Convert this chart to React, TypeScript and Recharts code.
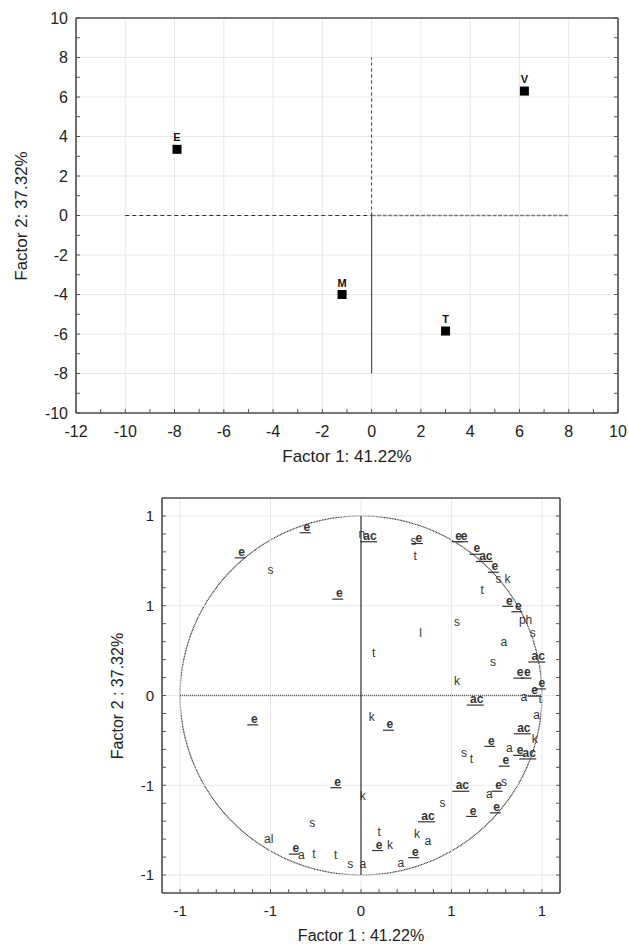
import React from 'react';
import { ScatterChart, Scatter, XAxis, YAxis, ReferenceLine, ReferenceArea } from 'recharts';

// --- factor scores (top plot)
const stations = ['E', 'V', 'M', 'T'];
const scoreF1 = [-7.9, 6.2, -1.2, 3.0];
const scoreF2 = [3.35, 6.3, -4.0, -5.85];

const scoreXTicks = [-12, -11, -10, -9, -8, -7, -6, -5, -4, -3, -2, -1, 0, 1, 2, 3, 4, 5, 6, 7, 8, 9, 10];
const scoreYTicks = [-10, -9, -8, -7, -6, -5, -4, -3, -2, -1, 0, 1, 2, 3, 4, 5, 6, 7, 8, 9, 10];
const scoreXLabels = [-12, -10, -8, -6, -4, -2, 0, 2, 4, 6, 8, 10];
const scoreYLabels = [-10, -8, -6, -4, -2, 0, 2, 4, 6, 8, 10];

// --- variable loadings (bottom plot)
const varNames = [
  'e', 'e', 's', 'e', 'n', 'ac', 's', 'e', 't', 'e', 'e', 'e', 'ac', 'e', 's', 'k', 't', 'e', 'e', 'ph',
  's', 's', 'l', 't', 'a', 's', 'k', 'ac', 'e', 'e', 'e', 'e', 'ac', 'a', 't', 'a', 'ac', 'k', 'e', 'a',
  'e', 'ac', 's', 't', 'e', 'ac', 'e', 's', 'a', 'e', 's', 'e', 'ac', 't', 'e', 'k', 'k', 'a', 'e', 'a',
  'a', 'k', 'k', 'e', 'e', 'e', 's', 'al', 'e', 'a', 't', 't', 's',
];
const varF1 = [
  -0.66, -0.3, -0.5, -0.12, 0.005, 0.05, 0.29, 0.32, 0.3, 0.54, 0.57, 0.64, 0.69, 0.74, 0.76, 0.81, 0.67, 0.82, 0.87, 0.91,
  0.95, 0.53, 0.33, 0.07, 0.79, 0.73, 0.53, 0.98, 0.88, 0.92, 1.0, 0.96, 0.64, 0.9, 0.99, 0.97, 0.9, 0.96, 0.72, 0.82,
  0.88, 0.93, 0.57, 0.61, 0.8, 0.56, 0.76, 0.79, 0.71, 0.75, 0.45, 0.62, 0.37, 0.1, 0.1, 0.16, 0.31, 0.37, 0.3, 0.22,
  0.01, 0.01, 0.06, 0.16, -0.59, -0.13, -0.27, -0.51, -0.36, -0.33, -0.26, -0.14, -0.06,
];
const varF2 = [
  0.8, 0.94, 0.7, 0.57, 0.9, 0.89, 0.86, 0.88, 0.78, 0.89, 0.89, 0.82, 0.78, 0.72, 0.65, 0.65, 0.59, 0.53, 0.5, 0.42,
  0.35, 0.41, 0.35, 0.24, 0.3, 0.19, 0.08, 0.22, 0.13, 0.13, 0.07, 0.03, -0.02, -0.01, -0.02, -0.11, -0.18, -0.24, -0.25, -0.29,
  -0.3, -0.32, -0.32, -0.35, -0.36, -0.5, -0.5, -0.48, -0.55, -0.62, -0.6, -0.64, -0.67, -0.76, -0.83, -0.83, -0.77, -0.81, -0.87, -0.93,
  -0.94, -0.56, -0.12, -0.16, -0.13, -0.48, -0.71, -0.8, -0.85, -0.89, -0.88, -0.89, -0.94,
];

const circleTicks = [-1, -0.9, -0.8, -0.7, -0.6, -0.5, -0.4, -0.3, -0.2, -0.1, 0, 0.1, 0.2, 0.3, 0.4, 0.5, 0.6, 0.7, 0.8, 0.9, 1];
const circleMajor = [-1, -0.5, 0, 0.5, 1];
const circleMajorText = ['-1', '-1', '0', '1', '1'];

const scoreData = stations.map((name, i) => ({ name, x: scoreF1[i], y: scoreF2[i] }));
const loadData = varNames.map((name, i) => ({ name, x: varF1[i], y: varF2[i] }));

const font = '"Liberation Sans", Arial, sans-serif';
const ink = '#222';
const frame = { stroke: '#4a4a4a', strokeWidth: 1.6 };
const gridColor = '#e8e8e8';

const findLabel = (v: number, vals: number[], texts?: string[]) => {
  const i = vals.findIndex((m) => Math.abs(m - v) < 1e-6);
  if (i < 0) return null;
  return texts ? texts[i] : String(vals[i]);
};

// ticks point inward, labels outside
const makeTick = (side: 'bottom' | 'top' | 'left' | 'right', vals?: number[], texts?: string[], fs = 16) => (props: any) => {
  const { x, y, payload } = props;
  const lab = vals ? findLabel(payload.value, vals, texts) : null;
  const L = 4;
  let line;
  if (side === 'bottom') line = <line x1={x} y1={y} x2={x} y2={y - L} stroke="#555" />;
  else if (side === 'top') line = <line x1={x} y1={y} x2={x} y2={y + L} stroke="#555" />;
  else if (side === 'left') line = <line x1={x} y1={y} x2={x + L} y2={y} stroke="#555" />;
  else line = <line x1={x} y1={y} x2={x - L} y2={y} stroke="#555" />;
  return (
    <g>
      {line}
      {lab !== null && side === 'bottom' && (
        <text x={x} y={y + 18} dy="0.35em" textAnchor="middle" fontSize={fs} fontFamily={font} fill={ink}>{lab}</text>
      )}
      {lab !== null && side === 'left' && (
        <text x={x - 8} y={y} dy="0.35em" textAnchor="end" fontSize={fs} fontFamily={font} fill={ink}>{lab}</text>
      )}
    </g>
  );
};

const StationMark = (props: any) => {
  const { cx, cy, payload } = props;
  return (
    <g>
      <rect x={cx - 4.5} y={cy - 4.5} width={9} height={9} fill="#000" />
      <text x={cx} y={cy - 8} textAnchor="middle" fontSize={11} fontWeight="bold" fontFamily={font} fill="#111">{payload.name}</text>
    </g>
  );
};

const LoadingMark = (props: any) => {
  const { cx, cy, payload } = props;
  const u = payload.name === 'e' || payload.name === 'ac';
  const w = payload.name.length * 6;
  return (
    <g>
      <text x={cx} y={cy} dy="0.35em" textAnchor="middle" fontSize={12} fontWeight={u ? 'bold' : 'normal'} fontFamily={font} fill="#333">{payload.name}</text>
      {u && <line x1={cx - w / 2 - 4} x2={cx + w / 2 + 1} y1={cy + 6} y2={cy + 6} stroke="#333" strokeWidth={1.2} />}
    </g>
  );
};

const CircleShape = (props: any) => {
  const { x, y, width, height } = props;
  return (
    <ellipse cx={x + width / 2} cy={y + height / 2} rx={width / 2} ry={height / 2}
      fill="none" stroke="#333" strokeWidth={1.2} strokeDasharray="1 0.6" />
  );
};

const Title = ({ text, left, top, vertical, size }: { text: string; left: number; top: number; vertical?: boolean; size: number }) => (
  <div style={{
    position: 'absolute', left, top, fontFamily: font, fontSize: size, color: ink, whiteSpace: 'nowrap',
    transform: `translate(-50%, -50%)${vertical ? ' rotate(-90deg)' : ''}`,
  }}>{text}</div>
);

export default function App() {
  return (
    <div style={{ position: 'absolute', left: 0, top: 0, width: 629, height: 947, background: '#fff', overflow: 'hidden' }}>
      <div style={{ position: 'absolute', left: 0, top: 0 }}>
        <ScatterChart width={629} height={470} margin={{ top: 17, right: 10, bottom: 27, left: 16 }}>
          <XAxis type="number" dataKey="x" domain={[-12, 10]} ticks={scoreXTicks} interval={0} height={30}
            tickSize={0} tickMargin={0} tickLine={false} axisLine={frame} tick={makeTick('bottom', scoreXLabels)} allowDataOverflow />
          <XAxis xAxisId="top" orientation="top" type="number" domain={[-12, 10]} ticks={scoreXTicks} interval={0} height={1}
            tickSize={0} tickMargin={0} tickLine={false} axisLine={frame} tick={makeTick('top')} allowDataOverflow />
          <YAxis type="number" dataKey="y" domain={[-10, 10]} ticks={scoreYTicks} interval={0} width={60}
            tickSize={0} tickMargin={0} tickLine={false} axisLine={frame} tick={makeTick('left', scoreYLabels)} allowDataOverflow />
          <YAxis yAxisId="right" orientation="right" type="number" domain={[-10, 10]} ticks={scoreYTicks} interval={0} width={1}
            tickSize={0} tickMargin={0} tickLine={false} axisLine={frame} tick={makeTick('right')} allowDataOverflow />
          {scoreXLabels.slice(1, -1).map((v) => <ReferenceLine key={'gx' + v} x={v} stroke={gridColor} />)}
          {scoreYLabels.slice(1, -1).map((v) => <ReferenceLine key={'gy' + v} y={v} stroke={gridColor} />)}
          <ReferenceLine segment={[{ x: -10, y: 0 }, { x: 0, y: 0 }]} stroke="#333" strokeDasharray="4 3" />
          <ReferenceLine segment={[{ x: 0, y: 0 }, { x: 8, y: 0 }]} stroke="#777" strokeWidth={1.6} strokeDasharray="4 1.5" />
          <ReferenceLine segment={[{ x: 0, y: 0 }, { x: 0, y: 8 }]} stroke="#333" strokeDasharray="3 3" />
          <ReferenceLine segment={[{ x: 0, y: -8 }, { x: 0, y: 0 }]} stroke="#333" />
          <Scatter data={scoreData} shape={StationMark} isAnimationActive={false} />
        </ScatterChart>
      </div>
      <div style={{ position: 'absolute', left: 0, top: 470 }}>
        <ScatterChart width={629} height={477} margin={{ top: 27, right: 68, bottom: 24, left: 102 }}>
          <XAxis type="number" dataKey="x" domain={[-1.1, 1.1]} ticks={circleTicks} interval={0} height={30}
            tickSize={0} tickMargin={0} tickLine={false} axisLine={frame} tick={makeTick('bottom', circleMajor, circleMajorText, 15)} allowDataOverflow />
          <XAxis xAxisId="top" orientation="top" type="number" domain={[-1.1, 1.1]} ticks={circleTicks} interval={0} height={1}
            tickSize={0} tickMargin={0} tickLine={false} axisLine={frame} tick={makeTick('top')} allowDataOverflow />
          <YAxis type="number" dataKey="y" domain={[-1.1, 1.1]} ticks={circleTicks} interval={0} width={60}
            tickSize={0} tickMargin={0} tickLine={false} axisLine={frame} tick={makeTick('left', circleMajor, circleMajorText, 15)} allowDataOverflow />
          <YAxis yAxisId="right" orientation="right" type="number" domain={[-1.1, 1.1]} ticks={circleTicks} interval={0} width={1}
            tickSize={0} tickMargin={0} tickLine={false} axisLine={frame} tick={makeTick('right')} allowDataOverflow />
          {circleMajor.map((v) => <ReferenceLine key={'cx' + v} x={v} stroke={gridColor} />)}
          {circleMajor.map((v) => <ReferenceLine key={'cy' + v} y={v} stroke={gridColor} />)}
          <ReferenceArea x1={-1} x2={1} y1={-1} y2={1} shape={CircleShape} />
          <ReferenceLine segment={[{ x: -1, y: 0 }, { x: 1, y: 0 }]} stroke="#555" strokeWidth={1.4} strokeDasharray="1 1" />
          <ReferenceLine segment={[{ x: 0, y: -1 }, { x: 0, y: 1 }]} stroke="#333" strokeWidth={1.2} />
          <Scatter data={loadData} shape={LoadingMark} isAnimationActive={false} />
        </ScatterChart>
      </div>
      <Title text="Factor 1: 41.22%" left={347} top={457} size={17} />
      <Title text="Factor 2: 37.32%" left={22} top={216} size={17} vertical />
      <Title text="Factor 1 : 41.22%" left={361} top={936} size={16} />
      <Title text="Factor 2 : 37.32%" left={118} top={696} size={16} vertical />
    </div>
  );
}
